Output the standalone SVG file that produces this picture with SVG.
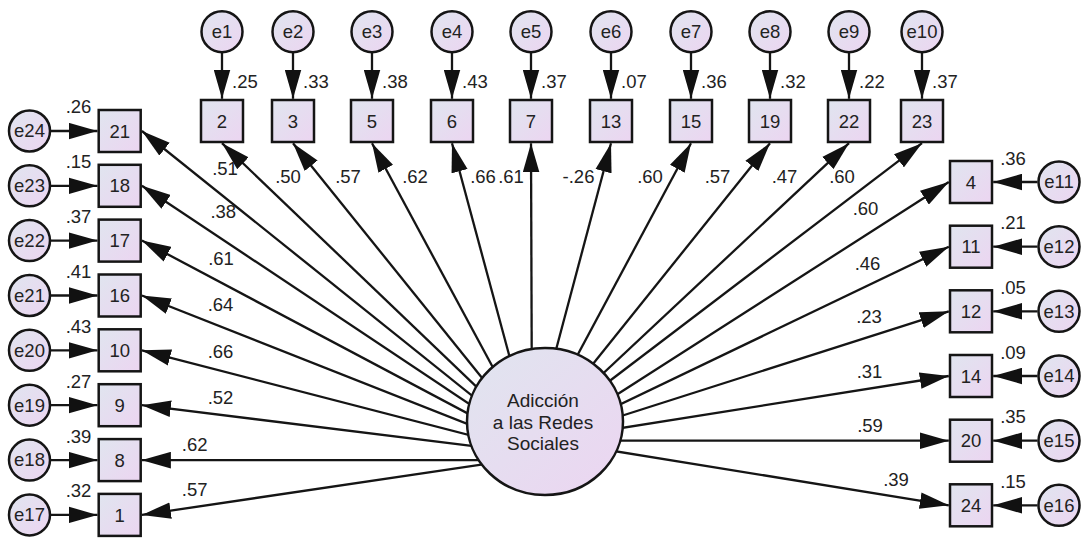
<svg xmlns="http://www.w3.org/2000/svg" width="1081" height="538" viewBox="0 0 1081 538">
<defs>
<linearGradient id="g" x1="0" y1="0" x2="1" y2="1">
<stop offset="0" stop-color="#e0e5ef"/>
<stop offset="1" stop-color="#ecd5f1"/>
</linearGradient>
<marker id="ah" markerUnits="userSpaceOnUse" markerWidth="29" markerHeight="17" viewBox="0 0 28 16" refX="28" refY="8" orient="auto">
<path d="M0,0 L28,8 L0,16 z" fill="#111111"/>
</marker>
<style>
.sh{fill:url(#g);stroke:#151515;stroke-width:2.5}
.ln{fill:none;stroke:#151515;stroke-width:2.3;marker-end:url(#ah)}
text{font-family:"Liberation Sans",Arial,sans-serif;font-size:18.5px;fill:#222}
.m{text-anchor:middle}
.big{font-size:19px}
</style>
</defs>
<rect width="1081" height="538" fill="#ffffff"/>

<g id="connectors">
<path class="ln" d="M222,52.4 L222,98.8"/>
<path class="ln" d="M293,52.4 L293,98.8"/>
<path class="ln" d="M372,52.4 L372,98.8"/>
<path class="ln" d="M452,52.4 L452,98.8"/>
<path class="ln" d="M531,52.4 L531,98.8"/>
<path class="ln" d="M611,52.4 L611,98.8"/>
<path class="ln" d="M691,52.4 L691,98.8"/>
<path class="ln" d="M770,52.4 L770,98.8"/>
<path class="ln" d="M849,52.4 L849,98.8"/>
<path class="ln" d="M922,52.4 L922,98.8"/>
<path class="ln" d="M51,131 L97.5,131"/>
<path class="ln" d="M51,185.8 L97.5,185.8"/>
<path class="ln" d="M51,240.6 L97.5,240.6"/>
<path class="ln" d="M51,295.5 L97.5,295.5"/>
<path class="ln" d="M51,350.3 L97.5,350.3"/>
<path class="ln" d="M51,405.2 L97.5,405.2"/>
<path class="ln" d="M51,460.1 L97.5,460.1"/>
<path class="ln" d="M51,514.9 L97.5,514.9"/>
<path class="ln" d="M1037.5,182 L993.2,182"/>
<path class="ln" d="M1037.5,246.7 L993.2,246.7"/>
<path class="ln" d="M1037.5,311.3 L993.2,311.3"/>
<path class="ln" d="M1037.5,376 L993.2,376"/>
<path class="ln" d="M1037.5,440.7 L993.2,440.7"/>
<path class="ln" d="M1037.5,505.3 L993.2,505.3"/>
<path class="ln" d="M532,440 L222,143.2"/>
<path class="ln" d="M532,440 L293,143.2"/>
<path class="ln" d="M532,440 L372,143.2"/>
<path class="ln" d="M532,440 L452,143.2"/>
<path class="ln" d="M532,440 L531,143.2"/>
<path class="ln" d="M532,440 L611,143.2"/>
<path class="ln" d="M532,440 L691,143.2"/>
<path class="ln" d="M532,440 L770,143.2"/>
<path class="ln" d="M532,440 L849,143.2"/>
<path class="ln" d="M532,440 L922,143.2"/>
<path class="ln" d="M546,455 L141.9,131"/>
<path class="ln" d="M546,455 L141.9,185.8"/>
<path class="ln" d="M546,455 L141.9,240.6"/>
<path class="ln" d="M546,455 L141.9,295.5"/>
<path class="ln" d="M546,455 L141.9,350.3"/>
<path class="ln" d="M546,455 L141.9,405.2"/>
<path class="ln" d="M546,460.1 L141.9,460.1"/>
<path class="ln" d="M546,455 L141.9,514.9"/>
<path class="ln" d="M546,440 L948.8,182"/>
<path class="ln" d="M546,440 L948.8,246.7"/>
<path class="ln" d="M546,440 L948.8,311.3"/>
<path class="ln" d="M546,440 L948.8,376"/>
<path class="ln" d="M546,440.7 L948.8,440.7"/>
<path class="ln" d="M546,440 L948.8,505.3"/>
</g>

<g id="labels">
<text x="232" y="88">.25</text>
<text x="303" y="88">.33</text>
<text x="382" y="88">.38</text>
<text x="462" y="88">.43</text>
<text x="541" y="88">.37</text>
<text x="621" y="88">.07</text>
<text x="701" y="88">.36</text>
<text x="780" y="88">.32</text>
<text x="859" y="88">.22</text>
<text x="932" y="88">.37</text>
<text class="m" x="78.5" y="113.4">.26</text>
<text class="m" x="78.5" y="168.2">.15</text>
<text class="m" x="78.5" y="223">.37</text>
<text class="m" x="78.5" y="277.9">.41</text>
<text class="m" x="78.5" y="332.7">.43</text>
<text class="m" x="78.5" y="387.6">.27</text>
<text class="m" x="78.5" y="442.5">.39</text>
<text class="m" x="78.5" y="497.3">.32</text>
<text class="m" x="1013" y="164.7">.36</text>
<text class="m" x="1013" y="229.4">.21</text>
<text class="m" x="1013" y="294">.05</text>
<text class="m" x="1013" y="358.7">.09</text>
<text class="m" x="1013" y="423.4">.35</text>
<text class="m" x="1013" y="488">.15</text>
<text class="m" x="225" y="174.5">.51</text>
<text class="m" x="288" y="183.4">.50</text>
<text class="m" x="348" y="183.4">.57</text>
<text class="m" x="415" y="183.4">.62</text>
<text class="m" x="483" y="183.4">.66</text>
<text class="m" x="511" y="183.4">.61</text>
<text class="m" x="578.5" y="183.4">-.26</text>
<text class="m" x="650" y="183.4">.60</text>
<text class="m" x="717.5" y="183.4">.57</text>
<text class="m" x="784.5" y="183.4">.47</text>
<text class="m" x="842" y="183.4">.60</text>
<text class="m" x="223.3" y="218">.38</text>
<text class="m" x="221" y="264.7">.61</text>
<text class="m" x="220.5" y="311.4">.64</text>
<text class="m" x="220.5" y="358">.66</text>
<text class="m" x="220.5" y="403.7">.52</text>
<text class="m" x="194.7" y="451.4">.62</text>
<text class="m" x="194.7" y="496.4">.57</text>
<text class="m" x="865.5" y="214.7">.60</text>
<text class="m" x="867.5" y="269.7">.46</text>
<text class="m" x="869" y="323">.23</text>
<text class="m" x="869.5" y="378">.31</text>
<text class="m" x="870" y="432.4">.59</text>
<text class="m" x="896" y="486.4">.39</text>
</g>

<g id="F1">
<ellipse class="sh" cx="545" cy="421.5" rx="78" ry="73.5"/>
<text class="m big" x="543" y="407">Adicción</text>
<text class="m big" x="543" y="429">a las Redes</text>
<text class="m big" x="543" y="449.7">Sociales</text>
</g>

<g id="v2"><rect class="sh" x="201" y="100" width="42" height="42"/><text class="m" x="222" y="127.6">2</text></g>
<g id="v3"><rect class="sh" x="272" y="100" width="42" height="42"/><text class="m" x="293" y="127.6">3</text></g>
<g id="v5"><rect class="sh" x="351" y="100" width="42" height="42"/><text class="m" x="372" y="127.6">5</text></g>
<g id="v6"><rect class="sh" x="431" y="100" width="42" height="42"/><text class="m" x="452" y="127.6">6</text></g>
<g id="v7"><rect class="sh" x="510" y="100" width="42" height="42"/><text class="m" x="531" y="127.6">7</text></g>
<g id="v13"><rect class="sh" x="590" y="100" width="42" height="42"/><text class="m" x="611" y="127.6">13</text></g>
<g id="v15"><rect class="sh" x="670" y="100" width="42" height="42"/><text class="m" x="691" y="127.6">15</text></g>
<g id="v19"><rect class="sh" x="749" y="100" width="42" height="42"/><text class="m" x="770" y="127.6">19</text></g>
<g id="v22"><rect class="sh" x="828" y="100" width="42" height="42"/><text class="m" x="849" y="127.6">22</text></g>
<g id="v23"><rect class="sh" x="901" y="100" width="42" height="42"/><text class="m" x="922" y="127.6">23</text></g>

<g id="e1"><circle class="sh" cx="222" cy="31.7" r="20.5"/><text class="m" x="222" y="38">e1</text></g>
<g id="e2"><circle class="sh" cx="293" cy="31.7" r="20.5"/><text class="m" x="293" y="38">e2</text></g>
<g id="e3"><circle class="sh" cx="372" cy="31.7" r="20.5"/><text class="m" x="372" y="38">e3</text></g>
<g id="e4"><circle class="sh" cx="452" cy="31.7" r="20.5"/><text class="m" x="452" y="38">e4</text></g>
<g id="e5"><circle class="sh" cx="531" cy="31.7" r="20.5"/><text class="m" x="531" y="38">e5</text></g>
<g id="e6"><circle class="sh" cx="611" cy="31.7" r="20.5"/><text class="m" x="611" y="38">e6</text></g>
<g id="e7"><circle class="sh" cx="691" cy="31.7" r="20.5"/><text class="m" x="691" y="38">e7</text></g>
<g id="e8"><circle class="sh" cx="770" cy="31.7" r="20.5"/><text class="m" x="770" y="38">e8</text></g>
<g id="e9"><circle class="sh" cx="849" cy="31.7" r="20.5"/><text class="m" x="849" y="38">e9</text></g>
<g id="e10"><circle class="sh" cx="922" cy="31.7" r="20.5"/><text class="m" x="922" y="38">e10</text></g>

<g id="v21"><rect class="sh" x="98.7" y="110" width="42" height="42"/><text class="m" x="119.7" y="137.6">21</text></g>
<g id="v18"><rect class="sh" x="98.7" y="164.8" width="42" height="42"/><text class="m" x="119.7" y="192.4">18</text></g>
<g id="v17"><rect class="sh" x="98.7" y="219.6" width="42" height="42"/><text class="m" x="119.7" y="247.2">17</text></g>
<g id="v16"><rect class="sh" x="98.7" y="274.5" width="42" height="42"/><text class="m" x="119.7" y="302.1">16</text></g>
<g id="v10"><rect class="sh" x="98.7" y="329.3" width="42" height="42"/><text class="m" x="119.7" y="356.9">10</text></g>
<g id="v9"><rect class="sh" x="98.7" y="384.2" width="42" height="42"/><text class="m" x="119.7" y="411.8">9</text></g>
<g id="v8"><rect class="sh" x="98.7" y="439.1" width="42" height="42"/><text class="m" x="119.7" y="466.7">8</text></g>
<g id="v1"><rect class="sh" x="98.7" y="493.9" width="42" height="42"/><text class="m" x="119.7" y="521.5">1</text></g>

<g id="e24"><circle class="sh" cx="29.5" cy="131" r="20.5"/><text class="m" x="29.5" y="137.3">e24</text></g>
<g id="e23"><circle class="sh" cx="29.5" cy="185.8" r="20.5"/><text class="m" x="29.5" y="192.1">e23</text></g>
<g id="e22"><circle class="sh" cx="29.5" cy="240.6" r="20.5"/><text class="m" x="29.5" y="246.9">e22</text></g>
<g id="e21"><circle class="sh" cx="29.5" cy="295.5" r="20.5"/><text class="m" x="29.5" y="301.8">e21</text></g>
<g id="e20"><circle class="sh" cx="29.5" cy="350.3" r="20.5"/><text class="m" x="29.5" y="356.6">e20</text></g>
<g id="e19"><circle class="sh" cx="29.5" cy="405.2" r="20.5"/><text class="m" x="29.5" y="411.5">e19</text></g>
<g id="e18"><circle class="sh" cx="29.5" cy="460.1" r="20.5"/><text class="m" x="29.5" y="466.4">e18</text></g>
<g id="e17"><circle class="sh" cx="29.5" cy="514.9" r="20.5"/><text class="m" x="29.5" y="521.2">e17</text></g>

<g id="v4"><rect class="sh" x="950" y="161" width="42" height="42"/><text class="m" x="971" y="188.6">4</text></g>
<g id="v11"><rect class="sh" x="950" y="225.7" width="42" height="42"/><text class="m" x="971" y="253.3">11</text></g>
<g id="v12"><rect class="sh" x="950" y="290.3" width="42" height="42"/><text class="m" x="971" y="317.9">12</text></g>
<g id="v14"><rect class="sh" x="950" y="355" width="42" height="42"/><text class="m" x="971" y="382.6">14</text></g>
<g id="v20"><rect class="sh" x="950" y="419.7" width="42" height="42"/><text class="m" x="971" y="447.3">20</text></g>
<g id="v24"><rect class="sh" x="950" y="484.3" width="42" height="42"/><text class="m" x="971" y="511.9">24</text></g>

<g id="e11"><circle class="sh" cx="1059" cy="182" r="20.5"/><text class="m" x="1059" y="188.3">e11</text></g>
<g id="e12"><circle class="sh" cx="1059" cy="246.7" r="20.5"/><text class="m" x="1059" y="253">e12</text></g>
<g id="e13"><circle class="sh" cx="1059" cy="311.3" r="20.5"/><text class="m" x="1059" y="317.6">e13</text></g>
<g id="e14"><circle class="sh" cx="1059" cy="376" r="20.5"/><text class="m" x="1059" y="382.3">e14</text></g>
<g id="e15"><circle class="sh" cx="1059" cy="440.7" r="20.5"/><text class="m" x="1059" y="447">e15</text></g>
<g id="e16"><circle class="sh" cx="1059" cy="505.3" r="20.5"/><text class="m" x="1059" y="511.6">e16</text></g>
</svg>
